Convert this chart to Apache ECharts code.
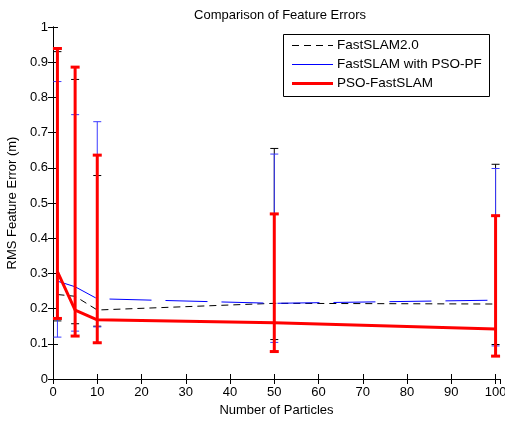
<!DOCTYPE html>
<html>
<head>
<meta charset="utf-8">
<script src="https://cdn.jsdelivr.net/npm/echarts@6/dist/echarts.min.js"></script>
<style>html,body{margin:0;padding:0;background:#fff}#c{width:505px;height:421px}</style>
</head>
<body>
<div id="c"></div>
<script>
const particles = [1, 5, 10, 50, 100];
const xTicks = [0, 10, 20, 30, 40, 50, 60, 70, 80, 90, 100];
const yTicks = [0, 0.1, 0.2, 0.3, 0.4, 0.5, 0.6, 0.7, 0.8, 0.9, 1];
const seriesNames = ['FastSLAM2.0', 'FastSLAM with PSO-PF', 'PSO-FastSLAM'];

const fast2Mean = [0.240, 0.235, 0.196, 0.215, 0.213];
const fast2Low  = [0.165, 0.157, 0.150, 0.112, 0.098];
const fast2High = [0.930, 0.851, 0.578, 0.655, 0.610];

const psopfMean = [0.278, 0.262, 0.228, 0.215, 0.224];
const psopfLow  = [0.119, 0.136, 0.148, 0.104, 0.094];
const psopfHigh = [0.845, 0.751, 0.731, 0.639, 0.598];

const psoMean = [0.305, 0.196, 0.168, 0.160, 0.142];
const psoLow  = [0.172, 0.122, 0.103, 0.078, 0.065];
const psoHigh = [0.939, 0.886, 0.636, 0.469, 0.464];

const FONT = 'Liberation Sans, Arial, sans-serif';

function errRender(color, lw, half) {
  return function (params, api) {
    const x = api.value(0);
    const lo = api.coord([x, api.value(1)]);
    const hi = api.coord([x, api.value(2)]);
    const st = { stroke: color, lineWidth: lw };
    return {
      type: 'group',
      children: [
        { type: 'line', shape: { x1: lo[0], y1: lo[1], x2: hi[0], y2: hi[1] }, style: st },
        { type: 'line', shape: { x1: hi[0] - half, y1: hi[1], x2: hi[0] + half, y2: hi[1] }, style: st },
        { type: 'line', shape: { x1: lo[0] - half, y1: lo[1], x2: lo[0] + half, y2: lo[1] }, style: st }
      ]
    };
  };
}
function errData(lo, hi) { return particles.map((p, i) => [p, lo[i], hi[i]]); }
function lineData(m) { return particles.map((p, i) => [p, m[i]]); }

const legendStyles = [
  { stroke: '#000', lineWidth: 1, lineDash: [7, 5] },
  { stroke: '#0000ff', lineWidth: 1 },
  { stroke: '#ff0000', lineWidth: 3 }
];
const legendRows = [45.5, 64.5, 83.5];
const legendGraphics = [
  { type: 'rect', shape: { x: 283.5, y: 34.5, width: 206, height: 62 },
    style: { fill: '#fff', stroke: '#000', lineWidth: 1 }, z: 100 }
];
seriesNames.forEach((n, i) => {
  legendGraphics.push({ type: 'line', shape: { x1: 292, y1: legendRows[i], x2: 333, y2: legendRows[i] },
    style: legendStyles[i], z: 101 });
  legendGraphics.push({ type: 'text', x: 337, y: legendRows[i],
    style: { text: n, fill: '#000', font: '13.5px ' + FONT, textVerticalAlign: 'middle', verticalAlign: 'middle' }, z: 101 });
});

const chart = echarts.init(document.getElementById('c'), null, { renderer: 'canvas' });
const axisCommon = {
  axisLine: { show: true, lineStyle: { color: '#000', width: 1 } },
  axisTick: { show: true, inside: true, length: 5, lineStyle: { color: '#000' } },
  splitLine: { show: false }
};
chart.setOption({
  animation: false,
  backgroundColor: '#fff',
  textStyle: { fontFamily: FONT },
  title: {
    text: 'Comparison of Feature Errors',
    left: 275, top: 4, textAlign: 'center',
    textStyle: { fontFamily: FONT, fontSize: 13, fontWeight: 'normal', color: '#000' }
  },
  grid: { left: 53, right: 5, top: 27, bottom: 42, containLabel: false, outerBoundsMode: 'none' },
  xAxis: [
    Object.assign({}, axisCommon, {
      type: 'value', min: 0, max: 101, interval: 10, position: 'bottom',
      name: 'Number of Particles', nameLocation: 'middle', nameGap: 25,
      nameTextStyle: { fontFamily: FONT, fontSize: 13, color: '#000' },
      axisLabel: {
        fontFamily: FONT, fontSize: 13, color: '#000', margin: 7,
        showMaxLabel: false,
        formatter: v => (xTicks.indexOf(v) >= 0 ? String(v) : '')
      }
    }),
    Object.assign({}, axisCommon, {
      type: 'value', min: 0, max: 101, interval: 10, position: 'top',
      axisLabel: { show: false }
    })
  ],
  yAxis: [
    Object.assign({}, axisCommon, {
      type: 'value', min: 0, max: 1, interval: 0.1, position: 'left',
      name: 'RMS Feature Error (m)', nameLocation: 'middle', nameGap: 32,
      nameTextStyle: { fontFamily: FONT, fontSize: 13, color: '#000' },
      axisLabel: {
        fontFamily: FONT, fontSize: 13, color: '#000', margin: 5,
        formatter: v => {
          const t = yTicks.find(t => Math.abs(t - v) < 1e-6);
          return t === undefined ? '' : String(t);
        }
      }
    }),
    Object.assign({}, axisCommon, {
      type: 'value', min: 0, max: 1, interval: 0.1, position: 'right',
      axisLabel: { show: false }
    })
  ],
  graphic: legendGraphics,
  series: [
    {
      type: 'custom', name: 'e1', renderItem: errRender('#000000', 1, 4),
      data: errData(fast2Low, fast2High), encode: { x: 0, y: [1, 2] }, z: 2, silent: true
    },
    {
      type: 'custom', name: 'e2', renderItem: errRender('#3b3bff', 1, 4),
      data: errData(psopfLow, psopfHigh), encode: { x: 0, y: [1, 2] }, z: 3, silent: true
    },
    {
      type: 'line', name: seriesNames[0], data: lineData(fast2Mean), symbol: 'none',
      lineStyle: { color: '#000', width: 1, type: [7, 5] }, z: 4
    },
    {
      type: 'line', name: seriesNames[1], data: lineData(psopfMean), symbol: 'none',
      lineStyle: { color: '#0000ff', width: 1, type: [42, 14] }, z: 5
    },
    {
      type: 'custom', name: 'e3', renderItem: errRender('#ff0000', 3, 4.5),
      data: errData(psoLow, psoHigh), encode: { x: 0, y: [1, 2] }, z: 6, silent: true
    },
    {
      type: 'line', name: seriesNames[2], data: lineData(psoMean), symbol: 'none',
      lineStyle: { color: '#ff0000', width: 3 }, z: 7
    }
  ]
});
</script>
</body>
</html>
